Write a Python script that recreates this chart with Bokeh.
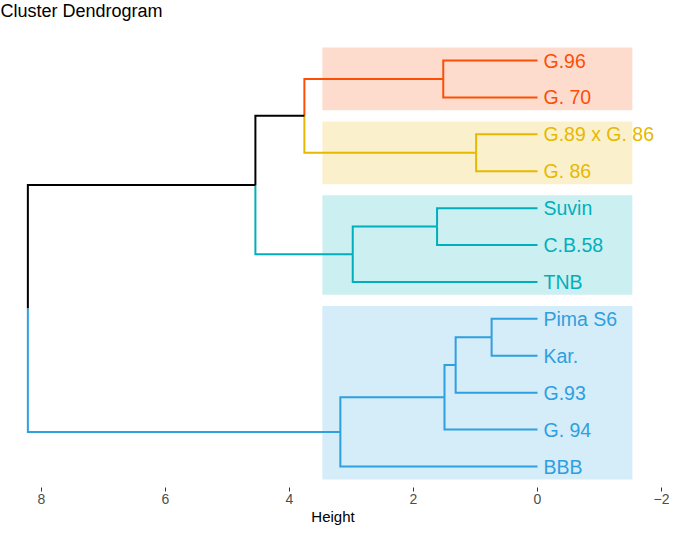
from bokeh.plotting import figure
from bokeh.models import Range1d, ColumnDataSource, FixedTicker
from bokeh.embed import file_html
from bokeh.resources import INLINE
from bokeh.core.properties import value

# ---- data -------------------------------------------------------------
title_text = "Cluster Dendrogram"
axis_title = "Height"
labels = ["G.96", "G. 70", "G.89 x G. 86", "G. 86", "Suvin", "C.B.58", "TNB",
          "Pima S6", "Kar.", "G.93", "G. 94", "BBB"]            # top -> bottom
leaf_cluster = [4, 4, 3, 3, 2, 2, 2, 1, 1, 1, 1, 1]
cluster_ids = [1, 2, 3, 4]
cluster_colors = ["#2E9FDF", "#00AFBB", "#E7B800", "#FC4E07"]
# hclust-style merges: negative = leaf (1-based, labels order), positive = merge row (1-based)
merge_a = [-8, -3, 1, -1, 3, -5, 6, 5, 4, 9, 10]
merge_b = [-9, -4, -10, -2, -11, -6, -7, -12, 2, 7, 8]
merge_h = [0.74, 0.99, 1.32, 1.52, 1.50, 1.62, 2.98, 3.18, 3.76, 4.55, 8.22]
rect_left = 3.47
rect_right = -1.53
x_ticks = [8, 6, 4, 2, 0, -2]

# ---- layout constants -------------------------------------------------
W, H = 669, 528
AXIS_H = 41
PX_X = 62.0
X_START = 8.0 + 41 / PX_X
X_END = -2.0 - 4 / PX_X
PX_Y = (466 - 60) / 11
frame_h = H - AXIS_H
Y_END = 12 + 60 / PX_Y
Y_START = Y_END - frame_h / PX_Y
RECT_PAD = 0.35

n = len(labels)
col_of = {c: col for c, col in zip(cluster_ids, cluster_colors)}
leaf_y = [n - i for i in range(n)]

node_y, node_h, node_cl = {}, {}, {}

def child_info(c):
    if c < 0:
        i = -c - 1
        return leaf_y[i], 0.0, leaf_cluster[i]
    return node_y[c], node_h[c], node_cl[c]

xs, ys, cols = [], [], []
for r in range(len(merge_h)):
    row = r + 1
    ya, ha, ca = child_info(merge_a[r])
    yb, hb, cb = child_info(merge_b[r])
    h = merge_h[r]
    y = (ya + yb) / 2
    node_y[row], node_h[row] = y, h
    node_cl[row] = ca if (ca is not None and ca == cb) else None
    for (yc, hc, cc) in ((ya, ha, ca), (yb, hb, cb)):
        xs.append([h, h, hc])
        ys.append([y, yc, yc])
        cols.append(col_of[cc] if cc is not None else "#000000")

p = figure(width=W, height=H, output_backend="svg", toolbar_location=None,
           x_range=Range1d(X_START, X_END), y_range=Range1d(Y_START, Y_END),
           y_axis_location=None, min_border_left=0, min_border_right=4,
           min_border_top=0, min_border_bottom=AXIS_H)
p.outline_line_color = None
p.background_fill_color = "white"
p.border_fill_color = "white"
p.xgrid.visible = False
p.ygrid.visible = False

# cluster rectangles
rl, rr, rt, rb, rc = [], [], [], [], []
for cid, col in zip(cluster_ids, cluster_colors):
    yy = [leaf_y[i] for i in range(n) if leaf_cluster[i] == cid]
    rl.append(rect_left); rr.append(rect_right)
    rt.append(max(yy) + RECT_PAD); rb.append(min(yy) - RECT_PAD)
    rc.append(col)
p.quad(left=rl, right=rr, top=rt, bottom=rb, fill_color=rc, fill_alpha=0.2, line_color=None)

p.multi_line(xs=xs, ys=ys, line_color=cols, line_width=2, line_join="miter")

src = ColumnDataSource(dict(x=[0.0] * n, y=leaf_y, t=labels,
                            c=[col_of[c] for c in leaf_cluster]))
p.text(x="x", y="y", text="t", source=src, text_color="c", x_offset=6,
       text_baseline="middle", text_align="left",
       text_font=value("Liberation Sans"), text_font_size="19.5px")

p.text(x=[X_START], y=[Y_END], text=[title_text], text_color="black",
       text_baseline="top", text_align="left",
       text_font=value("Liberation Sans"), text_font_size="18px")

ax = p.xaxis[0]
ax.ticker = FixedTicker(ticks=x_ticks)
ax.axis_line_color = None
ax.major_tick_line_color = "#333333"
ax.major_tick_out = 4
ax.major_tick_in = 0
ax.minor_tick_line_color = None
ax.major_label_text_font = "Liberation Sans"
ax.major_label_text_font_size = "14px"
ax.major_label_text_color = "#4D4D4D"
ax.major_label_standoff = 2
ax.axis_label = axis_title
ax.axis_label_text_font = "Liberation Sans"
ax.axis_label_text_font_size = "15px"
ax.axis_label_text_font_style = "normal"
ax.axis_label_text_color = "black"
ax.axis_label_standoff = 1

open("out.html", "w").write(file_html(p, INLINE))
